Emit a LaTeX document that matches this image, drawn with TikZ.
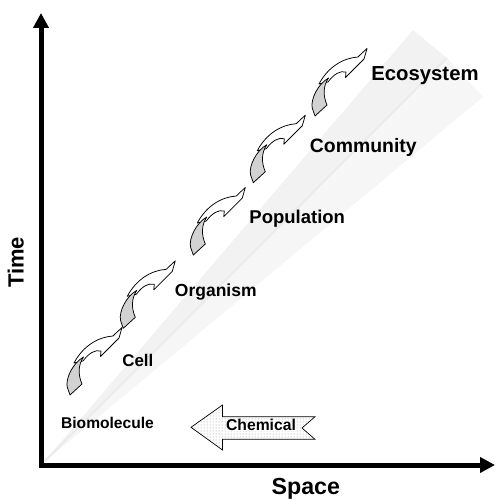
\documentclass[tikz,border=0pt]{standalone}
\usepackage{fontspec}
\setmainfont{Liberation Sans}
\usetikzlibrary{arrows.meta,patterns}
\tikzset{
  lbl/.style={font=\fontsize{#1}{#1}\selectfont\bfseries, inner sep=0pt,
              text height=0.72em, text depth=0pt},
  axisline/.style={line width=5pt, line join=miter,
              {Triangle[length=15pt,width=15pt]}-{Triangle[length=15pt,width=15pt]}},
  ribbonfront/.style={draw=black, fill=white, line width=0.75pt, line join=round},
  ribbonback/.style={draw=black, fill=gray!35, line width=0.75pt, line join=round},
  twistarrow/.pic={
    \path[ribbonfront]
      (4,-32) .. controls (13,-49) and (28,-58) .. (43,-59)
      -- (45,-61) -- (52,-67.5) -- (49,-57) -- (30.5,-38.5) -- (31,-44)
      .. controls (25,-45.5) and (19,-42) .. (13,-34) -- cycle;
    \path[ribbonback]
      (0,0) -- (12,-11) .. controls (8,-20) and (8,-30) .. (13.5,-38)
      .. controls (3,-32) and (-4.5,-17) .. (-2.8,-8) -- cycle;
  }
}
\begin{document}
\begin{tikzpicture}[x=1pt,y=-1pt]
\useasboundingbox (0,0) rectangle (495,500);
% fan
\coordinate (o) at (43,463);
\coordinate (fa) at (413,30);
\coordinate (fb) at (483,97);
\coordinate (fc) at (447,58);
\fill[black!5] (o) -- (fa) -- (fc) -- cycle;
\fill[black!3.5] (o) -- (fc) -- (fb) -- cycle;
\draw[black!8, line width=2pt] (o) -- (fc);
% axes
\coordinate (ytip) at (41,13);
\coordinate (corner) at (41,465);
\coordinate (xtip) at (495,465);
\draw[axisline] (ytip) -- (corner) -- (xtip);
% twisted arrows
\pic at (70,395) {twistarrow};
\pic at (123.3,328.3) {twistarrow};
\pic at (193.3,255) {twistarrow};
\pic at (253.3,182.7) {twistarrow};
\pic at (315,116) {twistarrow};
% labels
\node[lbl=20.3] (eco) at (425,77.3) {Ecosystem};
\node[lbl=19.4] (com) at (363.3,149.3) {Community};
\node[lbl=18.5] (pop) at (297.2,220) {Population};
\node[lbl=17.5] (org) at (215.8,292.7) {Organism};
\node[lbl=16.9] (cell) at (137.8,363) {Cell};
\node[lbl=15.6] (bio) at (107.5,424.7) {Biomolecule};
% chemical block arrow
\path[draw=black, line width=0.7pt, pattern=dots, pattern color=black!45]
  (191,427.3) -- (222.5,405) -- (222.5,416.7) -- (315,416.7) -- (302,428)
  -- (315,439.3) -- (222.5,439.3) -- (222.5,450) -- cycle;
\node[lbl=15.7, fill=white, inner sep=0.5pt] (chem) at (261,427) {Chemical};
% axis titles
\node[lbl=22, rotate=90] (time) at (20,262.5) {Time};
\node[lbl=23.2] (space) at (305.8,490.7) {Space};
\end{tikzpicture}
\end{document}
